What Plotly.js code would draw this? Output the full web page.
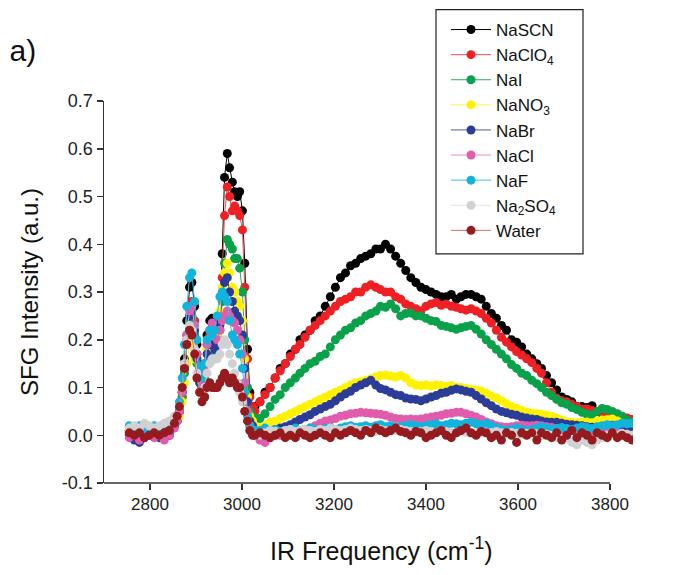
<!DOCTYPE html>
<html>
<head>
<meta charset="utf-8">
<script src="https://cdn.plot.ly/plotly-3.0.1.min.js"></script>
<style>html,body{margin:0;padding:0;background:#fff}#chart{width:679px;height:575px}</style>
</head>
<body>
<div id="chart"></div>
<script>
const freq = [2755,2766,2777,2788,2798,2809,2820,2831,2842,2853,
2859,2864,2870,2875,2880,2886,2891,2897,2902,2908,2913,2919,2924,2930,2935,2941,2946,2952,2957,2962,2968,2973,2979,2984,2990,2995,3001,3006,3012,3017,3023,3028,
3039,3050,3061,3072,3083,3094,3105,3116,3126,3137,
3148,3159,3170,3181,3192,3203,3214,3225,3236,3247,
3258,3269,3280,3291,3301,3312,3323,3334,3345,3356,
3367,3378,3389,3400,3411,3422,3433,3444,3455,3466,
3476,3487,3498,3509,3520,3531,3542,3553,3564,3575,
3586,3597,3608,3619,3630,3641,3651,3662,3673,3684,
3695,3706,3717,3728,3739,3750,3761,3772,3783,3794,
3805,3816,3826,3837,3848];

const NaSCN = [0.01,0.0,-0.005,0.0,0.005,0.0,0.005,-0.005,0.0,0.02,
0.03,0.05,0.09,0.16,0.24,0.31,0.32,0.27,0.19,0.13,0.12,0.15,0.21,0.24,0.245,0.23,0.2,0.24,0.38,0.54,0.59,0.56,0.53,0.51,0.5,0.51,0.47,0.36,0.18,0.09,0.06,0.06,
0.07,0.09,0.1,0.12,0.14,0.15,0.17,0.18,0.2,0.21,
0.22,0.24,0.25,0.27,0.29,0.31,0.33,0.34,0.355,0.36,
0.37,0.375,0.38,0.39,0.39,0.4,0.39,0.375,0.36,0.345,
0.33,0.32,0.31,0.305,0.3,0.295,0.29,0.29,0.295,0.285,
0.29,0.295,0.295,0.29,0.285,0.27,0.255,0.245,0.23,0.22,
0.2,0.195,0.185,0.17,0.16,0.15,0.14,0.125,0.11,0.095,
0.08,0.075,0.07,0.06,0.06,0.058,0.062,0.05,0.045,0.045,
0.04,0.04,0.038,0.035,0.033];

const NaClO4 = [0.01,0.005,0.0,0.01,0.005,0.01,0.0,0.005,0.01,0.02,
0.03,0.05,0.08,0.14,0.21,0.27,0.28,0.24,0.17,0.12,0.11,0.14,0.19,0.21,0.2,0.2,0.19,0.22,0.33,0.46,0.52,0.5,0.47,0.48,0.47,0.46,0.43,0.31,0.16,0.08,0.06,0.05,
0.07,0.085,0.1,0.12,0.135,0.15,0.165,0.18,0.19,0.205,
0.22,0.23,0.24,0.25,0.26,0.27,0.28,0.285,0.29,0.3,
0.3,0.31,0.315,0.31,0.305,0.3,0.3,0.29,0.285,0.275,
0.27,0.265,0.26,0.27,0.275,0.278,0.272,0.275,0.27,0.268,
0.265,0.262,0.265,0.26,0.255,0.245,0.235,0.22,0.205,0.195,
0.185,0.175,0.168,0.16,0.152,0.14,0.13,0.11,0.09,0.078,
0.072,0.07,0.065,0.06,0.055,0.055,0.052,0.05,0.048,0.046,
0.045,0.044,0.04,0.036,0.033];

const NaI = [0.005,0.01,0.0,0.005,0.01,0.0,0.01,0.005,0.01,0.02,
0.03,0.05,0.08,0.13,0.19,0.24,0.25,0.21,0.15,0.11,0.1,0.12,0.15,0.17,0.16,0.16,0.17,0.2,0.28,0.36,0.41,0.4,0.39,0.37,0.37,0.35,0.3,0.2,0.1,0.05,0.04,0.03,
0.035,0.045,0.06,0.075,0.085,0.1,0.11,0.12,0.13,0.14,
0.15,0.155,0.165,0.17,0.185,0.2,0.21,0.22,0.225,0.235,
0.24,0.25,0.255,0.26,0.27,0.268,0.275,0.265,0.25,0.255,
0.256,0.25,0.25,0.245,0.24,0.238,0.23,0.228,0.225,0.222,
0.225,0.228,0.23,0.222,0.212,0.2,0.19,0.18,0.17,0.16,
0.148,0.14,0.13,0.125,0.115,0.108,0.1,0.09,0.083,0.075,
0.068,0.065,0.058,0.054,0.048,0.044,0.042,0.05,0.056,0.054,
0.05,0.045,0.04,0.032,0.027];

const NaNO3 = [0.01,0.0,0.01,0.005,0.0,0.01,0.005,0.01,0.015,0.02,
0.03,0.04,0.07,0.11,0.15,0.19,0.19,0.16,0.12,0.09,0.09,0.13,0.18,0.2,0.21,0.2,0.21,0.26,0.31,0.34,0.36,0.34,0.31,0.3,0.28,0.27,0.24,0.16,0.08,0.04,0.03,0.02,
0.015,0.02,0.027,0.03,0.035,0.04,0.045,0.05,0.055,0.06,
0.065,0.07,0.075,0.08,0.085,0.09,0.095,0.1,0.105,0.11,
0.112,0.115,0.118,0.122,0.125,0.126,0.124,0.122,0.125,0.12,
0.11,0.105,0.104,0.105,0.103,0.105,0.104,0.102,0.104,0.1,
0.1,0.098,0.096,0.095,0.092,0.088,0.082,0.078,0.072,0.066,
0.06,0.056,0.052,0.048,0.046,0.045,0.044,0.042,0.04,0.036,
0.032,0.028,0.027,0.026,0.027,0.028,0.026,0.03,0.032,0.033,
0.034,0.03,0.025,0.02,0.017];

const NaBr = [0.0,-0.01,-0.015,-0.005,0.0,0.005,-0.005,0.0,0.005,0.02,
0.03,0.05,0.09,0.14,0.2,0.25,0.26,0.22,0.16,0.11,0.1,0.13,0.17,0.19,0.19,0.18,0.19,0.23,0.29,0.32,0.33,0.3,0.28,0.26,0.25,0.24,0.21,0.14,0.07,0.03,0.02,0.01,
0.005,0.008,0.01,0.012,0.015,0.018,0.022,0.028,0.033,0.038,
0.043,0.05,0.055,0.06,0.065,0.072,0.08,0.087,0.092,0.1,
0.105,0.11,0.115,0.105,0.098,0.095,0.09,0.085,0.083,0.078,
0.076,0.075,0.072,0.076,0.08,0.083,0.088,0.09,0.094,0.097,
0.095,0.092,0.09,0.083,0.076,0.068,0.062,0.055,0.05,0.047,
0.044,0.042,0.038,0.036,0.034,0.033,0.03,0.028,0.027,0.027,
0.025,0.023,0.022,0.021,0.02,0.018,0.017,0.017,0.018,0.02,
0.021,0.02,0.015,0.01,0.008];

const NaCl = [-0.005,0.0,-0.01,-0.005,0.0,-0.005,0.0,-0.01,0.0,0.015,
0.03,0.05,0.09,0.15,0.21,0.26,0.27,0.23,0.17,0.12,0.11,0.14,0.19,0.22,0.235,0.22,0.2,0.22,0.24,0.25,0.26,0.25,0.24,0.235,0.22,0.2,0.17,0.11,0.05,0.02,0.01,0.01,
-0.01,-0.015,-0.005,0.0,0.0,0.005,0.005,0.01,0.01,0.012,
0.015,0.02,0.025,0.03,0.032,0.035,0.04,0.042,0.045,0.046,
0.048,0.047,0.046,0.045,0.044,0.042,0.038,0.035,0.034,0.033,
0.034,0.033,0.034,0.036,0.038,0.04,0.042,0.045,0.046,0.048,
0.048,0.045,0.042,0.038,0.033,0.028,0.024,0.02,0.018,0.017,
0.018,0.02,0.021,0.02,0.02,0.021,0.02,0.018,0.016,0.014,
0.012,0.01,0.01,0.008,0.008,0.006,0.008,0.006,0.005,0.006,
0.004,0.005,0.003,0.002,0.0];

const NaF = [0.02,0.015,0.02,0.01,0.015,0.02,0.015,0.02,0.025,0.035,
0.04,0.07,0.12,0.19,0.27,0.33,0.34,0.28,0.2,0.14,0.12,0.15,0.2,0.22,0.21,0.22,0.25,0.29,0.3,0.29,0.28,0.24,0.21,0.2,0.19,0.17,0.14,0.09,0.04,0.02,0.01,0.01,
0.01,0.015,0.01,0.012,0.008,0.01,0.012,0.015,0.01,0.012,
0.015,0.012,0.01,0.014,0.016,0.012,0.015,0.018,0.02,0.016,
0.018,0.02,0.017,0.02,0.022,0.018,0.02,0.016,0.018,0.02,
0.022,0.02,0.018,0.02,0.022,0.024,0.02,0.022,0.025,0.024,
0.022,0.025,0.027,0.024,0.022,0.025,0.02,0.015,0.012,0.01,
0.012,0.015,0.012,0.01,0.012,0.015,0.018,0.015,0.012,0.014,
0.016,0.014,0.012,0.015,0.018,0.016,0.014,0.018,0.02,0.022,
0.02,0.022,0.025,0.024,0.025];

const Na2SO4 = [0.015,0.02,0.015,0.025,0.02,0.015,0.02,0.025,0.03,0.04,
0.04,0.06,0.1,0.15,0.2,0.23,0.22,0.18,0.13,0.09,0.08,0.1,0.13,0.15,0.16,0.16,0.16,0.17,0.19,0.2,0.19,0.17,0.15,0.13,0.11,0.09,0.07,0.05,0.03,0.01,0.0,0.0,
0.0,0.005,0.01,0.008,0.005,0.01,0.012,0.008,0.01,0.012,
0.01,0.008,0.012,0.01,0.015,0.012,0.01,0.012,0.015,0.012,
0.01,0.012,0.01,0.008,0.012,0.01,0.008,0.01,0.012,0.01,
0.008,0.006,0.008,0.01,0.008,0.006,0.01,0.008,0.006,0.005,
0.008,0.006,0.004,0.006,0.005,0.004,0.006,0.008,0.005,0.004,
0.006,0.004,0.002,0.004,0.006,0.003,0.0,0.002,0.0,-0.005,
-0.01,-0.005,-0.015,-0.02,-0.01,-0.015,-0.02,-0.01,-0.005,0.0,
0.002,0.0,0.004,0.002,0.0];

const Water = [0.005,0.0,0.005,-0.005,0.0,0.005,0.0,0.005,0.01,0.025,
0.04,0.06,0.1,0.14,0.19,0.22,0.21,0.17,0.12,0.09,0.07,0.08,0.1,0.11,0.1,0.1,0.1,0.11,0.12,0.13,0.12,0.11,0.12,0.11,0.1,0.1,0.08,0.05,0.03,0.01,0.0,0.0,
0.005,0.0,-0.005,0.0,0.005,-0.005,0.0,-0.005,0.005,0.0,
-0.005,0.0,0.005,0.0,-0.005,0.005,0.0,0.005,0.01,0.005,
0.0,0.01,0.005,0.015,0.01,0.005,0.01,0.015,0.008,0.005,
0.0,0.008,0.005,-0.005,0.0,0.005,0.01,0.0,-0.005,0.005,
0.01,0.015,0.005,0.0,0.008,0.005,-0.005,0.0,-0.01,0.005,
0.0,-0.015,0.005,0.0,0.005,-0.01,0.005,0.0,-0.005,0.005,
-0.01,0.0,0.01,-0.005,0.005,0.0,-0.01,0.005,0.0,-0.005,
0.005,-0.005,0.0,-0.005,-0.01];

const seriesNames = ['NaSCN','NaClO<sub>4</sub>','NaI','NaNO<sub>3</sub>','NaBr','NaCl','NaF','Na<sub>2</sub>SO<sub>4</sub>','Water'];
const seriesData = [NaSCN, NaClO4, NaI, NaNO3, NaBr, NaCl, NaF, Na2SO4, Water];
const markerColors = ['#000000','#ee2024','#0aa14b','#fff200','#2b3d98','#e25cae','#12b4dc','#cfd1d3','#961b1e'];
const lineColors = ['#000000','#f0504a','#35a860','#fff34d','#4a5aa8','#ee8cc6','#3fc0e0','#dfe3e8','#d87060'];

const xTickVals = [2800, 3000, 3200, 3400, 3600, 3800];
const yTickVals = [-0.1, 0.0, 0.1, 0.2, 0.3, 0.4, 0.5, 0.6, 0.7];
const yTickText = ['-0.1', '0.0', '0.1', '0.2', '0.3', '0.4', '0.5', '0.6', '0.7'];

const traces = seriesData.map((ys, i) => ({
  type: 'scatter',
  mode: 'lines+markers',
  x: freq,
  y: ys,
  name: seriesNames[i],
  line: {color: lineColors[i], width: 1},
  marker: {color: markerColors[i], size: 9, line: {width: 0}}
}));

const font = 'Arial, "Liberation Sans", Helvetica, sans-serif';
const layout = {
  width: 679, height: 575,
  margin: {l: 104, r: 46, t: 98, b: 92},
  paper_bgcolor: '#fff', plot_bgcolor: '#fff',
  font: {family: font, color: '#222', size: 18},
  title: {text: 'a)', x: 0.014, xanchor: 'left', xref: 'container', y: 0.913, yref: 'container', yanchor: 'middle', font: {family: font, size: 30, color: '#111'}},
  showlegend: true,
  legend: {
    x: 0.6465, xanchor: 'left', y: 1.233, yanchor: 'top',
    bgcolor: 'rgba(0,0,0,0)', borderwidth: 0,
    font: {family: font, size: 17, color: '#111'},
    itemwidth: 40,
    tracegroupgap: 0
  },
  shapes: [
    {type: 'rect', xref: 'paper', yref: 'paper',
     x0: 0.6276, x1: 0.9055, y0: 0.6, y1: 1.239,
     line: {color: '#222', width: 1.2}, fillcolor: '#fff', layer: 'above'},
    {type: 'line', xref: 'x', yref: 'paper',
     x0: 2700, x1: 3800, y0: 0, y1: 0,
     line: {color: '#333', width: 1.5}, layer: 'above'}
  ],
  annotations: [{
    text: 'IR Frequency (cm<sup>-1</sup>)', xref: 'paper', yref: 'paper',
    x: 0.5255, y: -0.174, xanchor: 'center', yanchor: 'middle', showarrow: false,
    font: {family: font, size: 25, color: '#111'}
  }],
  xaxis: {
    range: [2700, 3850], tickvals: xTickVals,
    showline: false,
    ticks: 'outside', ticklen: 6, tickcolor: '#333', tickwidth: 1.5,
    showgrid: false, zeroline: false,
    tickfont: {family: font, size: 17, color: '#222'}
  },
  yaxis: {
    range: [-0.1, 0.7], tickvals: yTickVals, ticktext: yTickText,
    showline: true, linecolor: '#333', linewidth: 1.5,
    ticks: 'outside', ticklen: 6, tickcolor: '#333', tickwidth: 1.5,
    showgrid: false, zeroline: false,
    tickfont: {family: font, size: 18, color: '#222'},
    title: {text: 'SFG Intensity (a.u.)', font: {family: font, size: 24, color: '#111'}, standoff: 16}
  }
};

Plotly.newPlot('chart', traces, layout, {displayModeBar: false, staticPlot: true});
</script>
</body>
</html>
